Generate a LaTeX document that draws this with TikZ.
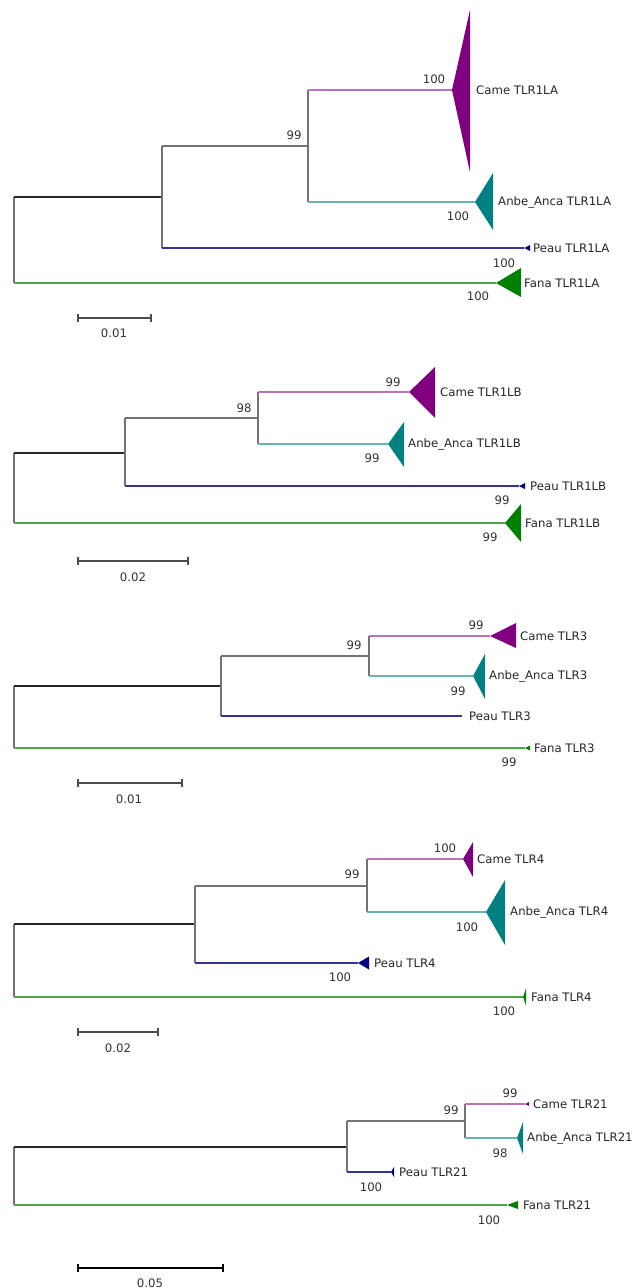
\documentclass[tikz,border=0pt]{standalone}
\usepackage{fontspec}
\setmainfont{DejaVu Sans}
\definecolor{came}{RGB}{128,0,128}
\definecolor{anbe}{RGB}{0,128,128}
\definecolor{peau}{RGB}{0,0,128}
\definecolor{fana}{RGB}{0,128,0}
\begin{document}
\begin{tikzpicture}[x=0.03cm, y=-0.03cm, font=\fontsize{10}{12}\selectfont,
    stem/.style={black!55, line width=1pt},
    root/.style={black!85, line width=1pt},
    caline/.style={came!55, line width=1pt},
    anline/.style={anbe!60, line width=1pt},
    peline/.style={peau!80, line width=1pt},
    faline/.style={fana!70, line width=1pt},
    lbl/.style={anchor=west, inner sep=0pt, text=black!85},
    bs/.style={inner sep=0pt, text=black!80},
    bar/.style={black!70, line width=1pt}]
    \useasboundingbox (0,0) rectangle (640,1288);
    % TLR1LA
    \coordinate (aR) at (14,197);
    \coordinate (aN1) at (162,197);
    \coordinate (aN2) at (308,146);
    \coordinate (aCa) at (452,90);
    \coordinate (aAn) at (475,202);
    \coordinate (aPe) at (524,248);
    \coordinate (aFa) at (496,283);
    \draw[stem] (aR |- aN1) -- (aR |- aFa);
    \draw[root] (aR) -- (aN1);
    \draw[stem] (aN1 |- aN2) -- (aN1 |- aPe);
    \draw[stem] (aN1 |- aN2) -- (aN2);
    \draw[stem] (aN2 |- aCa) -- (aN2 |- aAn);
    \draw[caline] (aN2 |- aCa) -- (aCa);
    \draw[anline] (aN2 |- aAn) -- (aAn);
    \draw[peline] (aN1 |- aPe) -- (aPe);
    \draw[faline] (aR |- aFa) -- (aFa);
    \fill[came] (aCa) -- ++(18,-80) -- ++(0,162) -- cycle;
    \fill[anbe] (aAn) -- ++(18,-29) -- ++(0,57) -- cycle;
    \fill[peau] (aPe) -- ++(6,-3) -- ++(0,6) -- cycle;
    \fill[fana] (aFa) -- ++(25,-15) -- ++(0,29) -- cycle;
    \node[lbl] (aCaL) at (476,90) {Came TLR1LA};
    \node[lbl] (aAnL) at (498,202) {Anbe\_Anca TLR1LA};
    \node[lbl] (aPeL) at (533,248) {Peau TLR1LA};
    \node[lbl] (aFaL) at (524,283) {Fana TLR1LA};
    \node[bs] (aB1) at (434,79) {100};
    \node[bs] (aB2) at (294,135) {99};
    \node[bs] (aB3) at (458,216) {100};
    \node[bs] (aB4) at (504,263) {100};
    \node[bs] (aB5) at (478,296) {100};
    \coordinate (aS1) at (78,318);
    \coordinate (aS2) at (151,318);
    \draw[bar] (aS1) -- (aS2) (aS1)++(0,-4) -- ++(0,8) (aS2)++(0,-4) -- ++(0,8);
    \node[bs] (aSL) at (114,333) {0.01};
    % TLR1LB
    \coordinate (bR) at (14,453);
    \coordinate (bN1) at (125,453);
    \coordinate (bN2) at (258,418);
    \coordinate (bCa) at (409,392);
    \coordinate (bAn) at (388,444);
    \coordinate (bPe) at (519,486);
    \coordinate (bFa) at (505,523);
    \draw[stem] (bR |- bN1) -- (bR |- bFa);
    \draw[root] (bR) -- (bN1);
    \draw[stem] (bN1 |- bN2) -- (bN1 |- bPe);
    \draw[stem] (bN1 |- bN2) -- (bN2);
    \draw[stem] (bN2 |- bCa) -- (bN2 |- bAn);
    \draw[caline] (bN2 |- bCa) -- (bCa);
    \draw[anline] (bN2 |- bAn) -- (bAn);
    \draw[peline] (bN1 |- bPe) -- (bPe);
    \draw[faline] (bR |- bFa) -- (bFa);
    \fill[came] (bCa) -- ++(26,-25) -- ++(0,51) -- cycle;
    \fill[anbe] (bAn) -- ++(16,-22) -- ++(0,45) -- cycle;
    \fill[peau] (bPe) -- ++(6,-3) -- ++(0,6) -- cycle;
    \fill[fana] (bFa) -- ++(16,-19) -- ++(0,38) -- cycle;
    \node[lbl] (bCaL) at (440,392) {Came TLR1LB};
    \node[lbl] (bAnL) at (408,444) {Anbe\_Anca TLR1LB};
    \node[lbl] (bPeL) at (530,486) {Peau TLR1LB};
    \node[lbl] (bFaL) at (525,523) {Fana TLR1LB};
    \node[bs] (bB1) at (393,382) {99};
    \node[bs] (bB2) at (244,408) {98};
    \node[bs] (bB3) at (372,458) {99};
    \node[bs] (bB4) at (502,500) {99};
    \node[bs] (bB5) at (490,537) {99};
    \coordinate (bS1) at (78,561);
    \coordinate (bS2) at (188,561);
    \draw[bar] (bS1) -- (bS2) (bS1)++(0,-4) -- ++(0,8) (bS2)++(0,-4) -- ++(0,8);
    \node[bs] (bSL) at (133,577) {0.02};
    % TLR3
    \coordinate (cR) at (14,686);
    \coordinate (cN1) at (221,686);
    \coordinate (cN2) at (369,656);
    \coordinate (cCa) at (490,636);
    \coordinate (cAn) at (473,676);
    \coordinate (cPe) at (462,716);
    \coordinate (cFa) at (525,748);
    \draw[stem] (cR |- cN1) -- (cR |- cFa);
    \draw[root] (cR) -- (cN1);
    \draw[stem] (cN1 |- cN2) -- (cN1 |- cPe);
    \draw[stem] (cN1 |- cN2) -- (cN2);
    \draw[stem] (cN2 |- cCa) -- (cN2 |- cAn);
    \draw[caline] (cN2 |- cCa) -- (cCa);
    \draw[anline] (cN2 |- cAn) -- (cAn);
    \draw[peline] (cN1 |- cPe) -- (cPe);
    \draw[faline] (cR |- cFa) -- (cFa);
    \fill[came] (cCa) -- ++(26,-13) -- ++(0,25) -- cycle;
    \fill[anbe] (cAn) -- ++(12,-22) -- ++(0,45) -- cycle;
    \fill[fana] (cFa) -- ++(5,-2.5) -- ++(0,5) -- cycle;
    \node[lbl] (cCaL) at (520,636) {Came TLR3};
    \node[lbl] (cAnL) at (489,676) {Anbe\_Anca TLR3};
    \node[lbl] (cPeL) at (469,716) {Peau TLR3};
    \node[lbl] (cFaL) at (534,748) {Fana TLR3};
    \node[bs] (cB1) at (476,625) {99};
    \node[bs] (cB2) at (354,645) {99};
    \node[bs] (cB3) at (458,691) {99};
    \node[bs] (cB5) at (509,762) {99};
    \coordinate (cS1) at (78,783);
    \coordinate (cS2) at (182,783);
    \draw[bar] (cS1) -- (cS2) (cS1)++(0,-4) -- ++(0,8) (cS2)++(0,-4) -- ++(0,8);
    \node[bs] (cSL) at (129,799) {0.01};
    % TLR4
    \coordinate (dR) at (14,924);
    \coordinate (dN1) at (195,924);
    \coordinate (dN2) at (367,886);
    \coordinate (dCa) at (463,859);
    \coordinate (dAn) at (486,912);
    \coordinate (dPe) at (358,963);
    \coordinate (dFa) at (523,997);
    \draw[stem] (dR |- dN1) -- (dR |- dFa);
    \draw[root] (dR) -- (dN1);
    \draw[stem] (dN1 |- dN2) -- (dN1 |- dPe);
    \draw[stem] (dN1 |- dN2) -- (dN2);
    \draw[stem] (dN2 |- dCa) -- (dN2 |- dAn);
    \draw[caline] (dN2 |- dCa) -- (dCa);
    \draw[anline] (dN2 |- dAn) -- (dAn);
    \draw[peline] (dN1 |- dPe) -- (dPe);
    \draw[faline] (dR |- dFa) -- (dFa);
    \fill[came] (dCa) -- ++(10,-17) -- ++(0,35) -- cycle;
    \fill[anbe] (dAn) -- ++(19,-32) -- ++(0,65) -- cycle;
    \fill[peau] (dPe) -- ++(11,-6.5) -- ++(0,13) -- cycle;
    \fill[fana] (dFa) -- ++(3,-8.5) -- ++(0,17) -- cycle;
    \node[lbl] (dCaL) at (477,859) {Came TLR4};
    \node[lbl] (dAnL) at (510,912) {Anbe\_Anca TLR4};
    \node[lbl] (dPeL) at (374,963) {Peau TLR4};
    \node[lbl] (dFaL) at (531,997) {Fana TLR4};
    \node[bs] (dB1) at (445,848) {100};
    \node[bs] (dB2) at (352,874) {99};
    \node[bs] (dB3) at (467,927) {100};
    \node[bs] (dB4) at (340,977) {100};
    \node[bs] (dB5) at (504,1011) {100};
    \coordinate (dS1) at (78,1032);
    \coordinate (dS2) at (158,1032);
    \draw[bar] (dS1) -- (dS2) (dS1)++(0,-4) -- ++(0,8) (dS2)++(0,-4) -- ++(0,8);
    \node[bs] (dSL) at (118,1048) {0.02};
    % TLR21
    \coordinate (eR) at (14,1147);
    \coordinate (eN1) at (347,1147);
    \coordinate (eN2) at (465,1121);
    \coordinate (eCa) at (525,1104);
    \coordinate (eAn) at (517,1138);
    \coordinate (ePe) at (391,1172);
    \coordinate (eFa) at (507,1205);
    \draw[stem] (eR |- eN1) -- (eR |- eFa);
    \draw[root] (eR) -- (eN1);
    \draw[stem] (eN1 |- eN2) -- (eN1 |- ePe);
    \draw[stem] (eN1 |- eN2) -- (eN2);
    \draw[stem] (eN2 |- eCa) -- (eN2 |- eAn);
    \draw[caline] (eN2 |- eCa) -- (eCa);
    \draw[anline] (eN2 |- eAn) -- (eAn);
    \draw[peline] (eN1 |- ePe) -- (ePe);
    \draw[faline] (eR |- eFa) -- (eFa);
    \fill[came] (eCa) -- ++(4,-2) -- ++(0,4) -- cycle;
    \fill[anbe] (eAn) -- ++(6,-16) -- ++(0,32) -- cycle;
    \fill[peau] (ePe) -- ++(3,-5) -- ++(0,10) -- cycle;
    \fill[fana] (eFa) -- ++(11,-4) -- ++(0,8) -- cycle;
    \node[lbl] (eCaL) at (533,1104) {Came TLR21};
    \node[lbl] (eAnL) at (527,1138) {Anbe\_Anca TLR21};
    \node[lbl] (ePeL) at (399,1172) {Peau TLR21};
    \node[lbl] (eFaL) at (523,1205) {Fana TLR21};
    \node[bs] (eB1) at (510,1093) {99};
    \node[bs] (eB2) at (451,1110) {99};
    \node[bs] (eB3) at (500,1153) {98};
    \node[bs] (eB4) at (371,1187) {100};
    \node[bs] (eB5) at (489,1220) {100};
    \coordinate (eS1) at (78,1268);
    \coordinate (eS2) at (223,1268);
    \draw[bar, black] (eS1) -- (eS2) (eS1)++(0,-4) -- ++(0,8) (eS2)++(0,-4) -- ++(0,8);
    \node[bs] (eSL) at (150,1283) {0.05};
\end{tikzpicture}
\end{document}
